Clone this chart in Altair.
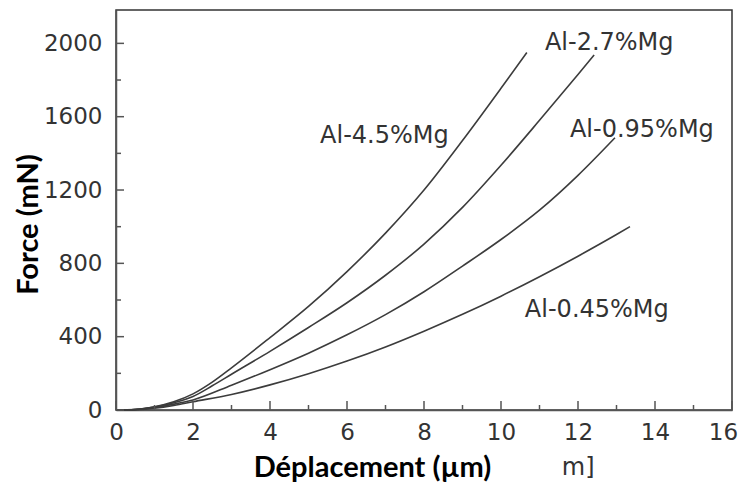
import altair as alt
import pandas as pd

# ---- data ----
series_names = ["Al-4.5%Mg", "Al-2.7%Mg", "Al-0.95%Mg", "Al-0.45%Mg"]

x_45 = [0, 0.5, 1, 1.5, 2, 2.5, 3, 4, 5, 6, 7, 8, 9, 10, 10.67]
f_45 = [0, 3, 18, 45, 88, 152, 230, 395, 565, 755, 965, 1200, 1470, 1755, 1950]

x_27 = [0, 0.5, 1, 1.5, 2, 2.5, 3, 4, 5, 6, 7, 8, 9, 10, 11, 12, 12.42]
f_27 = [0, 3, 16, 40, 74, 132, 195, 320, 450, 585, 735, 905, 1105, 1335, 1580, 1830, 1937]

x_095 = [0, 0.5, 1, 1.5, 2, 3, 4, 5, 6, 7, 8, 9, 10, 11, 12, 12.96]
f_095 = [0, 3, 14, 32, 55, 135, 220, 310, 410, 520, 645, 785, 930, 1090, 1280, 1485]

x_045 = [0, 0.5, 1, 1.5, 2, 3, 4, 5, 6, 7, 8, 9, 10, 11, 12, 13, 13.35]
f_045 = [0, 2, 10, 25, 45, 85, 137, 198, 267, 344, 430, 522, 621, 727, 839, 957, 1000]

x_major = [0, 2, 4, 6, 8, 10, 12, 14, 16]
x_minor = [1, 3, 5, 7, 9, 11, 13, 15]
y_major = [0, 400, 800, 1200, 1600, 2000]
y_minor = [200, 600, 1000, 1400, 1800]

label_x = [5.30, 11.14, 11.79, 10.62]
label_y = [1454, 1964, 1490, 507]

frag_text = ["m]"]
frag_x = [11.58]
frag_y = [-355]

# ---- tables ----
rows = []
for name, xs, fs in zip(series_names, [x_45, x_27, x_095, x_045], [f_45, f_27, f_095, f_045]):
    for xv, fv in zip(xs, fs):
        rows.append({"series": name, "x": xv, "f": fv})
df = pd.DataFrame(rows)
labels_df = pd.DataFrame({"label": series_names, "x": label_x, "f": label_y})
frag_df = pd.DataFrame({"label": frag_text, "x": frag_x, "f": frag_y})

xscale = alt.Scale(domain=[0, 16], nice=False, zero=False)
yscale = alt.Scale(domain=[0, 2182], nice=False, zero=False)

AX = "#555555"
LINE = "#3c3c3c"
TXT = "#333333"

x_axis = alt.Axis(
    values=x_major, format="d", ticks=False, tickSize=0, grid=False,
    labelFont="DejaVu Sans", labelFontSize=23, labelColor=TXT, labelPadding=11,
    labelFlush=False, labelOverlap=False,
    labelOffset={"condition": {"test": "datum.value == 16", "value": -9}, "value": 0},
    domainColor=AX, domainWidth=1.5,
    title="Déplacement (µm)", titleFont="Lato", titleFontWeight="bold",
    titleFontSize=29, titleColor="#000000", titleX=256, titleY=66,
    titleAlign="center", titleBaseline="alphabetic")
y_axis = alt.Axis(
    values=y_major, format="d", ticks=False, tickSize=0, grid=False,
    labelFont="DejaVu Sans", labelFontSize=23, labelColor=TXT, labelPadding=14,
    labelOverlap=False,
    domainColor=AX, domainWidth=1.5,
    title="Force (mN)", titleFont="Lato", titleFontWeight="bold",
    titleFontSize=29, titleColor="#000000", titleX=-79, titleY=214,
    titleAngle=270, titleAlign="center", titleBaseline="alphabetic")

lines = alt.Chart(df).mark_line(interpolate="monotone", color=LINE, strokeWidth=1.6).encode(
    x=alt.X("x:Q", scale=xscale, axis=x_axis),
    y=alt.Y("f:Q", scale=yscale, axis=y_axis),
    detail="series:N",
)

def xticks(vals, length):
    return alt.Chart(pd.DataFrame({"x": vals})).mark_rule(color=AX, strokeWidth=1.5).encode(
        x=alt.X("x:Q", scale=xscale, axis=x_axis),
        y=alt.value(400), y2=alt.value(400 - length))

def yticks(vals, length):
    return alt.Chart(pd.DataFrame({"f": vals})).mark_rule(color=AX, strokeWidth=1.5).encode(
        y=alt.Y("f:Q", scale=yscale, axis=y_axis),
        x=alt.value(0), x2=alt.value(length))

labels = alt.Chart(labels_df).mark_text(
    align="left", baseline="alphabetic", font="DejaVu Sans", fontSize=24, color=TXT
).encode(
    x=alt.X("x:Q", scale=xscale, axis=x_axis),
    y=alt.Y("f:Q", scale=yscale, axis=y_axis),
    text="label:N")

frag = alt.Chart(frag_df).mark_text(
    align="left", baseline="alphabetic", font="DejaVu Sans", fontSize=24, color=TXT
).encode(
    x=alt.X("x:Q", scale=xscale, axis=x_axis),
    y=alt.Y("f:Q", scale=yscale, axis=y_axis),
    text="label:N")

chart = alt.layer(
    lines, xticks(x_major, 9), xticks(x_minor, 5), yticks(y_major, 8), yticks(y_minor, 5),
    labels, frag
).properties(
    width=616, height=400,
    padding={"left": 108, "top": 2, "right": 7, "bottom": 72},
    autosize=alt.AutoSizeParams(type="none"),
).configure_view(stroke="#333333", strokeWidth=1.5)

chart.save("out.html", embed_options={"renderer": "svg", "actions": False})
